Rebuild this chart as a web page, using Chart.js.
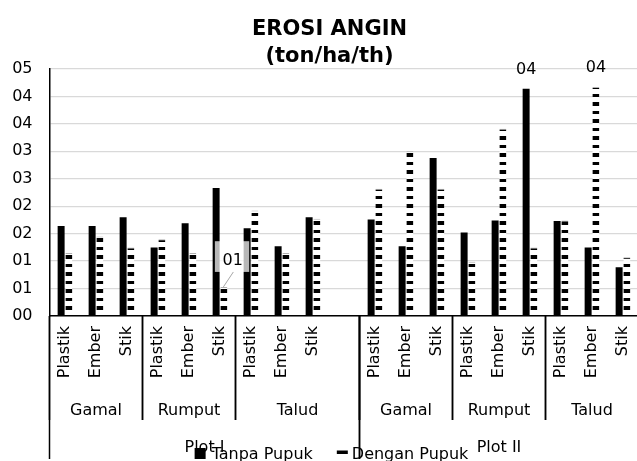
<!DOCTYPE html>
<html>
<head>
<meta charset="utf-8">
<script src="https://cdn.jsdelivr.net/npm/chart.js@4"></script>
<style>
  body { margin: 0; background: #fff; overflow: hidden; }
  #wrap { width: 640px; height: 461px; }
</style>
</head>
<body>
<div id="wrap"><canvas id="canvas" width="640" height="461"></canvas></div>
<script>
  const canvas = document.querySelector("#canvas");
  const ctx = canvas.getContext("2d");

  // one slot per bar pair, slot 9 is the empty gap between the plots
  const subLabels = ["Plastik", "Ember", "Stik", "Plastik", "Ember", "Stik", "Plastik", "Ember", "Stik", "",
                     "Plastik", "Ember", "Stik", "Plastik", "Ember", "Stik", "Plastik", "Ember", "Stik"];
  const groups = ["Gamal", "Gamal", "Gamal", "Rumput", "Rumput", "Rumput", "Talud", "Talud", "Talud", "Talud",
                  "Gamal", "Gamal", "Gamal", "Rumput", "Rumput", "Rumput", "Talud", "Talud", "Talud"];
  const plots = ["Plot I", "Plot I", "Plot I", "Plot I", "Plot I", "Plot I", "Plot I", "Plot I", "Plot I", "Plot I",
                 "Plot II", "Plot II", "Plot II", "Plot II", "Plot II", "Plot II", "Plot II", "Plot II", "Plot II"];

  const tanpaPupuk = [1.64, 1.64, 1.80, 1.25, 1.69, 2.33, 1.60, 1.27, 1.80, null,
                      1.76, 1.27, 2.88, 1.52, 1.74, 4.14, 1.73, 1.25, 0.89];
  const denganPupuk = [1.15, 1.45, 1.25, 1.40, 1.15, 0.53, 1.92, 1.15, 1.77, null,
                       2.32, 3.00, 2.32, 0.99, 3.41, 1.25, 1.74, 4.17, 1.07];

  // which values carry a data label
  const shownValues = [
    { series: 0, index: 15 },
    { series: 1, index: 17 },
    { series: 1, index: 5, boxed: true },
  ];

  const FONT = '"DejaVu Sans", sans-serif';
  const fmt = (v) => String(Math.round(v)).padStart(2, "0");

  function stripePattern() {
    const c = document.createElement("canvas");
    c.width = 8; c.height = 17;
    const g = c.getContext("2d");
    g.fillStyle = "#fff";
    g.fillRect(0, 0, 8, 17);
    g.fillStyle = "#000";
    g.fillRect(0, 0, 8, 4);
    g.fillRect(0, 9, 8, 3);
    return ctx.createPattern(c, "repeat");
  }

  function runs(arr) {
    const out = [];
    arr.forEach((name, i) => {
      const last = out[out.length - 1];
      if (last && last.name === name) last.end = i;
      else out.push({ name, start: i, end: i });
    });
    return out;
  }

  const decorations = {
    id: "decorations",
    afterDraw(chart) {
      const { ctx, chartArea, scales: { x } } = chart;
      const w = x.width / subLabels.length;
      const edge = (i) => x.left + i * w;
      ctx.save();
      ctx.fillStyle = "#000";

      // title
      ctx.font = 'bold 21px "DejaVu Sans", sans-serif';
      ctx.textAlign = "center";
      ctx.textBaseline = "alphabetic";
      ctx.fillText("EROSI ANGIN", 329.5, 35);
      ctx.fillText("(ton/ha/th)", 329.5, 62);

      // rotated sub labels
      ctx.font = "16px " + FONT;
      subLabels.forEach((lab, i) => {
        ctx.save();
        ctx.translate(x.getPixelForValue(i), chartArea.bottom + 10);
        ctx.rotate(-Math.PI / 2);
        ctx.textAlign = "right";
        ctx.textBaseline = "middle";
        ctx.fillText(lab, 0, 0);
        ctx.restore();
      });

      // group and plot levels
      ctx.strokeStyle = "#000";
      ctx.lineWidth = 1.5;
      ctx.textAlign = "center";
      ctx.textBaseline = "alphabetic";
      runs(groups).forEach((r) => {
        ctx.fillText(r.name, (edge(r.start) + edge(r.end + 1)) / 2, 415);
        [r.start, r.end + 1].forEach((k) => {
          ctx.beginPath();
          ctx.moveTo(edge(k), chartArea.bottom);
          ctx.lineTo(edge(k), 420);
          ctx.stroke();
        });
      });
      runs(plots).forEach((r) => {
        ctx.fillText(r.name, (edge(r.start) + edge(r.end + 1)) / 2, 452);
        [r.start, r.end + 1].forEach((k) => {
          ctx.beginPath();
          ctx.moveTo(edge(k), chartArea.bottom);
          ctx.lineTo(edge(k), 459);
          ctx.stroke();
        });
      });

      // data labels
      shownValues.forEach((s) => {
        const bar = chart.getDatasetMeta(s.series).data[s.index];
        const txt = fmt(chart.data.datasets[s.series].data[s.index]);
        if (s.boxed) {
          ctx.strokeStyle = "#a6a6a6";
          ctx.lineWidth = 1;
          ctx.beginPath();
          ctx.moveTo(bar.x - 0.5, bar.y);
          ctx.lineTo(bar.x + 9.5, bar.y - 15);
          ctx.stroke();
          ctx.fillStyle = "rgba(255,255,255,0.72)";
          ctx.fillRect(bar.x - 9, bar.y - 45.7, 34.3, 30.7);
          ctx.fillStyle = "#000";
          ctx.fillText(txt, bar.x + 8.8, bar.y - 22.2);
        } else {
          ctx.fillText(txt, bar.x, bar.y - 15);
        }
      });

      // legend
      ctx.font = "16px " + FONT;
      ctx.textAlign = "left";
      const names = chart.data.datasets.map((d) => d.label);
      const w1 = ctx.measureText(names[0]).width;
      const w2 = ctx.measureText(names[1]).width;
      const total = 11 + 6 + w1 + 24 + 11 + 4 + w2;
      let lx = 331.5 - total / 2;
      ctx.fillRect(lx, 448, 11, 11);
      lx += 17;
      ctx.fillText(names[0], lx, 459);
      lx += w1 + 24;
      ctx.fillRect(lx, 450.5, 11, 3.5);
      lx += 15;
      ctx.fillText(names[1], lx, 459);
      ctx.restore();
    },
  };

  const chart = new Chart(canvas, {
    type: "bar",
    data: {
      labels: subLabels,
      datasets: [
        { label: "Tanpa Pupuk", data: tanpaPupuk, backgroundColor: "#000",
          categoryPercentage: 0.5, barPercentage: 0.9 },
        { label: "Dengan Pupuk", data: denganPupuk, backgroundColor: stripePattern(),
          borderColor: "#b0b0b0", borderWidth: { top: 1, right: 0, bottom: 0, left: 0 },
          categoryPercentage: 0.5, barPercentage: 0.9 },
      ],
    },
    options: {
      responsive: false,
      animation: false,
      layout: { padding: { top: 69, right: 1.5, bottom: 0, left: 0 } },
      plugins: {
        legend: { display: false },
        title: { display: false },
        tooltip: { enabled: false },
      },
      scales: {
        x: {
          ticks: { display: false },
          grid: { display: false },
          border: { color: "#000", width: 1.5 },
          afterFit: (s) => { s.height = 145; },
        },
        y: {
          min: 0,
          max: 4.5,
          ticks: { stepSize: 0.5, padding: 17, color: "#000", font: { size: 16, family: FONT },
                   callback: (v) => fmt(v) },
          grid: { color: "#d9d9d9", lineWidth: 1.3, drawTicks: false },
          border: { color: "#000", width: 1.5 },
          afterFit: (s) => { s.width = 49.5; },
        },
      },
    },
    plugins: [decorations],
  });
</script>
</body>
</html>
